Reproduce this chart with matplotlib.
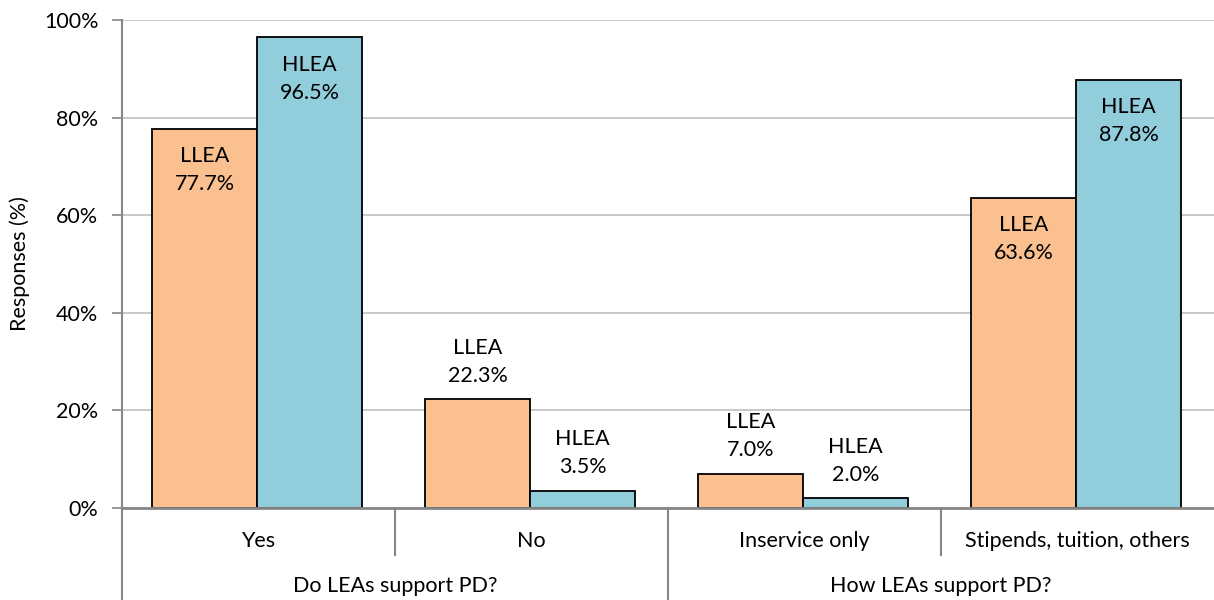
import matplotlib
matplotlib.use("Agg")
import matplotlib.pyplot as plt
import matplotlib.transforms as mtransforms

categories = ["Yes", "No", "Inservice only", "Stipends, tuition, others"]
groups = ["Do LEAs support PD?", "How LEAs support PD?"]
group_sizes = [2, 2]
series_names = ["LLEA", "HLEA"]
llea = [77.7, 22.3, 7.0, 63.6]
hlea = [96.5, 3.5, 2.0, 87.8]
yticks = [0, 20, 40, 60, 80, 100]
ylabel = "Responses (%)"

plt.rcParams['font.family'] = ['Lato', 'DejaVu Sans']
FS = 15.5

fig = plt.figure(figsize=(12.14, 6.0), dpi=100)
ax = fig.add_axes([122/1214, 1-508/600, 1-122/1214, 488/600])

colors = ["#FAC090", "#92CDDC"]
w = 0.385
x = list(range(len(categories)))
for si, (vals, col) in enumerate(zip([llea, hlea], colors)):
    off = (si - 0.5) * w
    xs = [xi + off - 0.005 for xi in x]
    ax.bar(xs, vals, width=w, color=col, edgecolor="black", linewidth=1.3, zorder=3)
    for xi, v in zip(xs, vals):
        txt = f"{series_names[si]}\n{v:.1f}%"
        if v > 40:
            ax.annotate(txt, (xi, v), xytext=(0, -30), textcoords="offset points",
                        ha="center", va="center", fontsize=FS, linespacing=1.5, zorder=4)
        else:
            ax.annotate(txt, (xi, v), xytext=(0, 27), textcoords="offset points",
                        ha="center", va="center", fontsize=FS, linespacing=1.5, zorder=4)

ax.set_xlim(-0.5, len(categories) - 0.5)
ax.set_ylim(0, 100)
ax.set_yticks(yticks)
ax.set_yticklabels([f"{t}%" for t in yticks], fontsize=FS)
ax.yaxis.grid(True, color="#BFBFBF", linewidth=1.2, zorder=0)
ax.set_axisbelow(True)
ax.tick_params(axis="y", length=7, width=1.2, color="#868686", pad=10)
ax.set_xticks([])
for s in ["top", "right"]:
    ax.spines[s].set_visible(False)
ax.spines["left"].set_color("#868686")
ax.spines["left"].set_linewidth(1.5)
ax.spines["bottom"].set_color("#868686")
ax.spines["bottom"].set_linewidth(2)
ax.spines["bottom"].set_zorder(5)
ax.set_ylabel(ylabel, fontsize=FS)
ax.yaxis.set_label_coords(-92/1092, 0.5)

trans = mtransforms.blended_transform_factory(ax.transData, ax.transAxes)
short_y = -47/488
long_y = -92/488
for xi, c in enumerate(categories):
    ax.text(xi, -33/488, c, transform=trans, ha="center", va="center", fontsize=FS)
start = 0
for gi, (g, n) in enumerate(zip(groups, group_sizes)):
    ax.text(start + (n - 1) / 2, -78/488, g, transform=trans, ha="center", va="center", fontsize=FS)
    ax.plot([start - 0.5, start - 0.5], [0, long_y], transform=trans, color="#868686",
            linewidth=1.5, clip_on=False)
    for k in range(1, n):
        b = start + k - 0.5
        ax.plot([b, b], [0, short_y], transform=trans, color="#868686",
                linewidth=1.5, clip_on=False)
    start += n

fig.savefig("out.png", dpi=100)
